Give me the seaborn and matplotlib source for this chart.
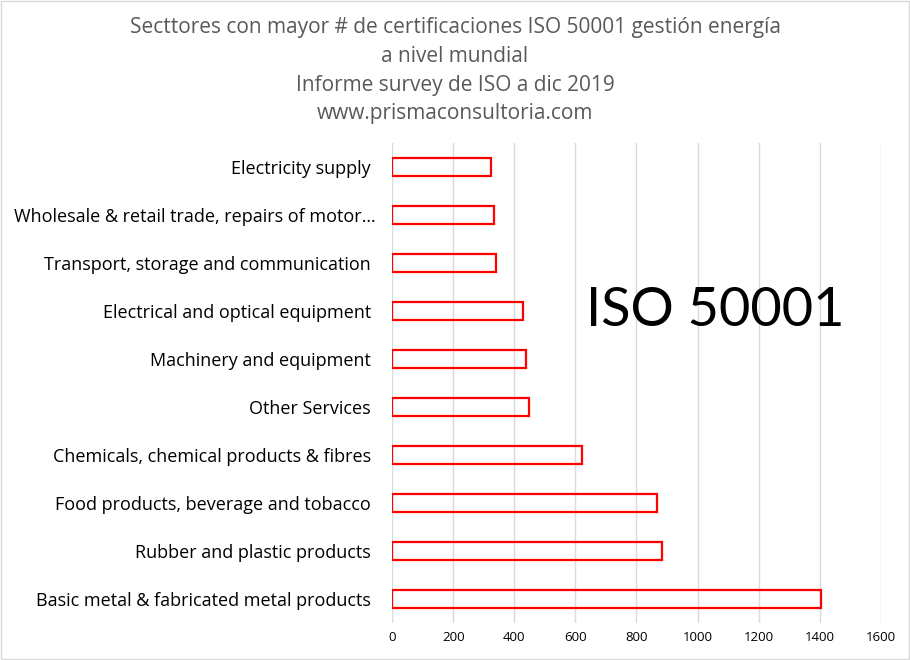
import matplotlib
matplotlib.use("Agg")
import pandas as pd
import seaborn as sns
import matplotlib.pyplot as plt

# === Data ===
sectors = [
    "Electricity supply ",
    "Wholesale & retail trade, repairs of motor\u2026",
    "Transport, storage and communication ",
    "Electrical and optical equipment ",
    "Machinery and equipment ",
    "Other Services ",
    "Chemicals, chemical products & fibres ",
    "Food products, beverage and tobacco ",
    "Rubber and plastic products ",
    "Basic metal & fabricated metal products ",
]
certificates = [324, 334, 341, 429, 439, 449, 623, 866, 882, 1406]
x_ticks = [0, 200, 400, 600, 800, 1000, 1200, 1400, 1600]

title_lines = [
    "Secttores con mayor # de certificaciones ISO 50001 gestión energía",
    "a nivel mundial",
    "Informe survey de ISO a dic 2019",
    "www.prismaconsultoria.com",
]
title_y_px = [28, 56, 85, 114]

df = pd.DataFrame({"sector": sectors, "n": certificates})

sns.set_theme(style="white")
plt.rcParams["font.family"] = ["Open Sans", "DejaVu Sans"]

fig = plt.figure(figsize=(9.1, 6.6), dpi=100)
ax = fig.add_axes([0.4311, 0.0561, 0.5367, 0.7273])

sns.barplot(data=df, x="n", y="sector", orient="h", ax=ax,
            fill=False, edgecolor="#ff0000", linewidth=1.6, width=0.37)

ax.set_xlim(0, 1600)
ax.set_ylim(9.5, -0.5)
ax.set_xticks(x_ticks)
ax.set_xticklabels([str(t) for t in x_ticks], fontsize=9.5, color="#000000")
ax.tick_params(axis="y", length=0, pad=12, labelsize=13, labelcolor="#000000")
ax.tick_params(axis="x", length=0, pad=6)
ax.set_xlabel("")
ax.set_ylabel("")
ax.grid(axis="x", color="#d9d9d9", linewidth=1)
ax.set_axisbelow(True)
for s in ax.spines.values():
    s.set_visible(False)

# === Title, one line at a time ===
for line, ypx in zip(title_lines, title_y_px):
    fig.text(0.5, 1 - ypx / 660, line, ha="center", va="center",
             fontsize=15, color="#595959")

fig.text(715 / 910, 1 - 310 / 660, "ISO 50001", ha="center", va="center",
         fontsize=39, color="#000000", family=["Lato", "DejaVu Sans"])

# light frame around the chart area
fig.patches.append(plt.Rectangle((0.001, 0.001), 0.998, 0.998, transform=fig.transFigure,
                                 fill=False, edgecolor="#d9d9d9", linewidth=1))

fig.savefig("out.png", dpi=100)
plt.close(fig)
